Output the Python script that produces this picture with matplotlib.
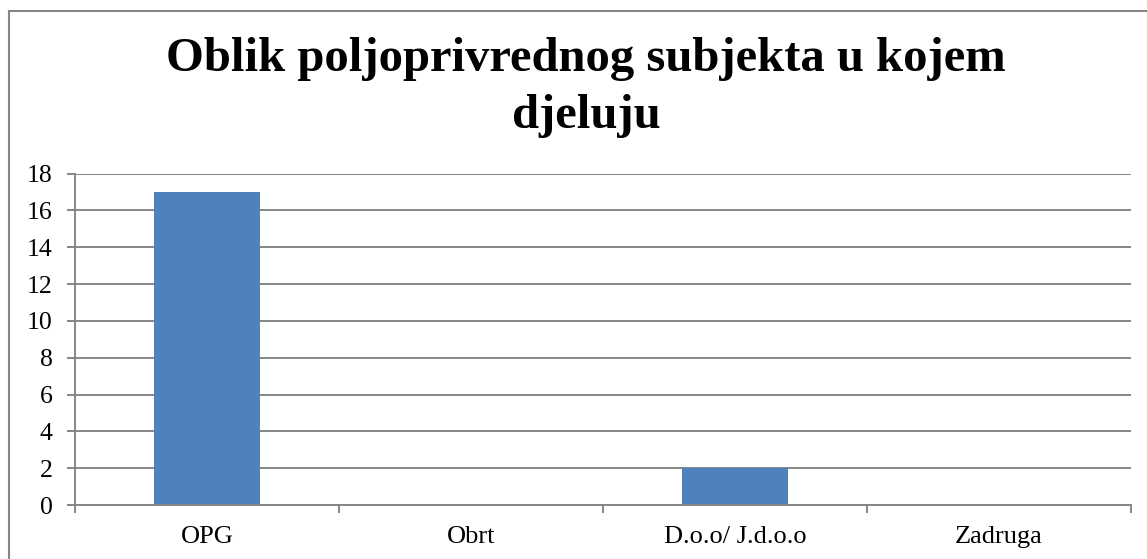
import matplotlib
matplotlib.use("Agg")
import matplotlib.pyplot as plt
from matplotlib.lines import Line2D
import numpy as np

categories = ["OPG", "Obrt", "D.o.o/ J.d.o.o", "Zadruga"]
values = [17, 0, 2, 0]
yticks = [0, 2, 4, 6, 8, 10, 12, 14, 16, 18]
title = "Oblik poljoprivrednog subjekta u kojem\ndjeluju"

plt.rcParams['font.family'] = ['Liberation Serif', 'DejaVu Serif']
W, H = 1147, 559
fig = plt.figure(figsize=(W/100, H/100), dpi=100)
ax = fig.add_axes([75/W, 1-505/H, (1131-75)/W, (505-173.5)/H])

grey = '#868686'
x = np.arange(len(categories))
ax.bar(x, values, width=0.4, color='#4F81BD', zorder=3)
ax.set_xlim(-0.5, len(categories)-0.5)
ax.set_ylim(0, 18)
ax.set_yticks(yticks)
ax.set_yticklabels([str(v) for v in yticks], fontsize=18.5)
ax.yaxis.grid(True, color=grey, linewidth=1.4, zorder=0)
ax.set_axisbelow(True)

ax.set_xticks(np.arange(len(categories)+1)-0.5)
ax.set_xticklabels([])
ax.set_xticks(x, minor=True)
ax.set_xticklabels(categories, minor=True, fontsize=19)
ax.tick_params(axis='x', which='minor', length=0, pad=15)
ax.tick_params(axis='x', which='major', length=6, width=1.4, color=grey, direction='out')
ax.tick_params(axis='y', length=6, width=1.4, color=grey, direction='out', pad=10)

for s in ['top', 'right']:
    ax.spines[s].set_visible(False)
for s in ['left', 'bottom']:
    ax.spines[s].set_color(grey)
    ax.spines[s].set_linewidth(1.4)
ax.spines['bottom'].set_zorder(4)

fig.text(586/W, 1-37/H, title, ha='center', va='top', fontsize=35,
         fontweight='bold', linespacing=1.38)

# outer chart frame
fig.add_artist(Line2D([8.5/W, 8.5/W], [0, 1-10.5/H], color=grey, linewidth=1.5, transform=fig.transFigure))
fig.add_artist(Line2D([8.5/W, 1], [1-10.5/H, 1-10.5/H], color=grey, linewidth=1.5, transform=fig.transFigure))

fig.savefig("out.png", dpi=100)
